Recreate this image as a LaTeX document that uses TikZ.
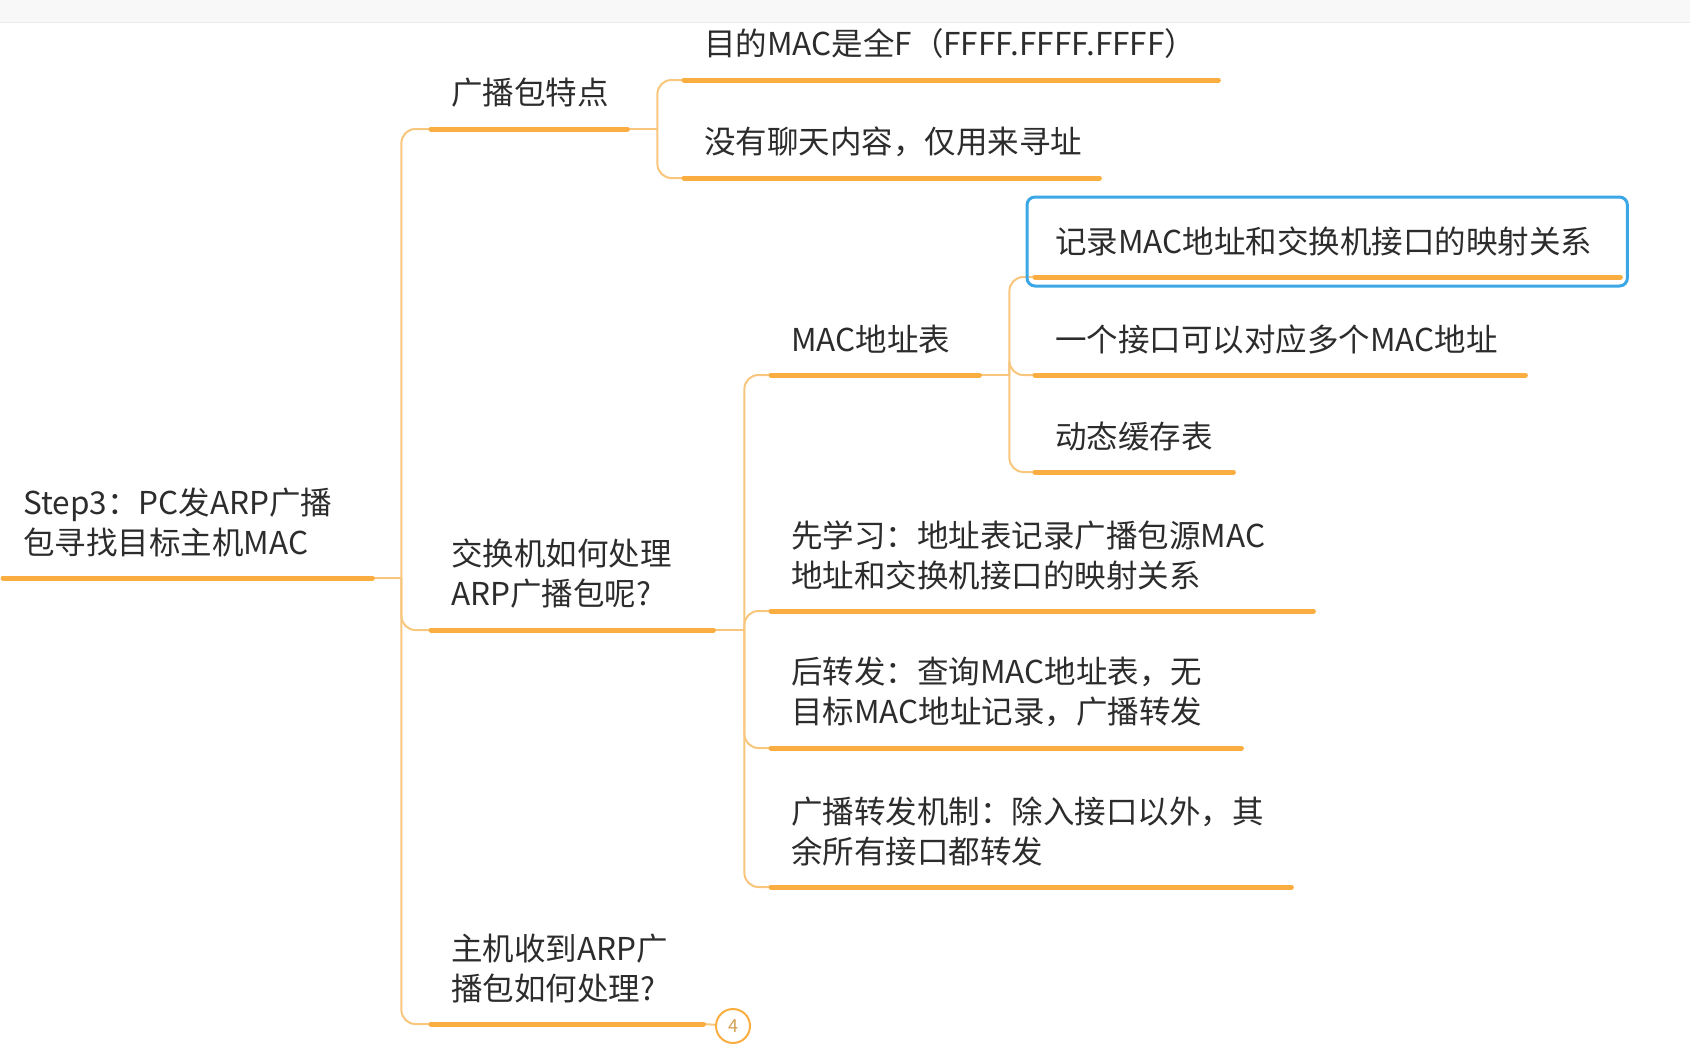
\documentclass[tikz,border=0pt]{standalone}
\usepackage{fontspec}
\setmainfont{Noto Sans CJK SC}
\usetikzlibrary{positioning}
\definecolor{lineorange}{RGB}{250,173,65}
\definecolor{linklight}{RGB}{248,198,125}
\definecolor{selblue}{RGB}{59,167,230}
\definecolor{textgray}{RGB}{44,44,44}
\definecolor{barbg}{RGB}{248,248,248}

\begin{document}
\begin{tikzpicture}[x=1pt, y=-1pt,
        topic/.style={anchor=south west, inner xsep=20pt, inner ysep=21pt, align=left,
            text=textgray, font=\fontsize{31.5}{40}\selectfont},
        uline/.style={draw=lineorange, line width=5pt, line cap=round},
        link/.style={draw=linklight, line width=2pt, rounded corners=14pt},
        selbox/.style={draw=selblue, line width=3pt, rounded corners=8pt}
    ]
        \useasboundingbox (0,0) rectangle (1690,1058);
        \fill[barbg] (0,0) rectangle (1690,22);
        \draw[black!8] (0,22) -- (1690,22);

        \node[topic, text width=329pt] (root) at (3,578) {Step3：PC发ARP广播\\包寻找目标主机MAC};
        \node[topic, text width=156pt] (c1) at (431,129) {广播包特点};
        \node[topic, text width=242pt] (c2) at (431,630) {交换机如何处理\\ARP广播包呢?};
        \node[topic, text width=232pt] (c3) at (431,1024) {主机收到ARP广\\播包如何处理?};
        \node[topic, text width=494pt] (b1) at (684,80) {目的MAC是全F（FFFF.FFFF.FFFF）};
        \node[topic, text width=375pt] (b2) at (684,178) {没有聊天内容，仅用来寻址};
        \node[topic, text width=168pt] (s1) at (771,375) {MAC地址表};
        \node[topic, text width=502pt] (s2) at (771,611) {先学习：地址表记录广播包源MAC\\地址和交换机接口的映射关系};
        \node[topic, text width=430pt] (s3) at (771,748) {后转发：查询MAC地址表，无\\目标MAC地址记录，广播转发};
        \node[topic, text width=480pt] (s4) at (771,887) {广播转发机制：除入接口以外，其\\余所有接口都转发};
        \node[topic, text width=545pt] (m1) at (1035,277) {记录MAC地址和交换机接口的映射关系};
        \node[topic, text width=450pt] (m2) at (1035,375) {一个接口可以对应多个MAC地址};
        \node[topic, text width=158pt] (m3) at (1035,472) {动态缓存表};
        \node[circle, draw=lineorange, line width=2pt, minimum size=34pt, inner sep=0pt,
            text=lineorange!70!gray, font=\fontsize{18}{18}\selectfont] (cnt) at (733,1026) {4};

        % branches
        \draw[link] (root.south east) -- ++(29,0) coordinate (t0);
        \draw[link] (t0) |- (c1.south west);
        \draw[link] (t0) |- (c2.south west);
        \draw[link] (t0) |- (c3.south west);
        \draw[link] (c1.south east) -- ++(30,0) coordinate (t1);
        \draw[link] (t1) |- (b1.south west);
        \draw[link] (t1) |- (b2.south west);
        \draw[link] (c2.south east) -- ++(31,0) coordinate (t2);
        \foreach \n in {s1,s2,s3,s4}
            \draw[link] (t2) |- (\n.south west);
        \draw[link] (s1.south east) -- ++(30,0) coordinate (t3);
        \foreach \n in {m1,m2,m3}
            \draw[link] (t3) |- (\n.south west);
        \draw[link] (c3.south east) -- (cnt);

        % underlines
        \foreach \n in {root,c1,c2,c3,b1,b2,s1,s2,s3,s4,m1,m2,m3}
            \draw[uline] (\n.south west) -- (\n.south east);

        \draw[selbox] ([xshift=-8pt,yshift=-9pt]m1.south west) rectangle ([xshift=7pt,yshift=80pt]m1.south east);
    \end{tikzpicture}
\end{document}
